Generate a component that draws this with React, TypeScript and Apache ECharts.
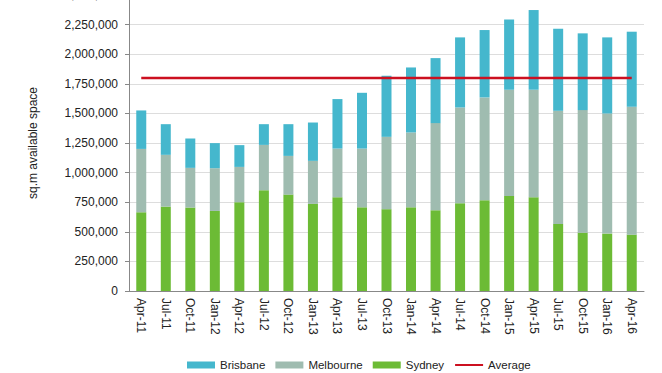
import React, { useEffect, useRef } from "react";
import * as echarts from "echarts";

const categories = ["Apr-11","Jul-11","Oct-11","Jan-12","Apr-12","Jul-12","Oct-12","Jan-13","Apr-13","Jul-13","Oct-13","Jan-14","Apr-14","Jul-14","Oct-14","Jan-15","Apr-15","Jul-15","Oct-15","Jan-16","Apr-16"];
const sydney = [665000,713000,705000,676000,750000,851000,814000,736000,792000,707000,691000,707000,682000,741000,767000,803000,792000,566000,493000,485000,476000];
const melbourne = [535000,437000,335000,361000,298000,383000,327000,363000,411000,496000,611000,632000,736000,809000,868000,897000,908000,956000,1035000,1014000,1080000];
const brisbane = [325000,259000,248000,212000,184000,175000,268000,324000,418000,471000,516000,549000,549000,592000,569000,594000,673000,693000,648000,643000,634000];
const average = categories.map(() => 1800000);

export default function App() {
  const ref = useRef<HTMLDivElement>(null);
  useEffect(() => {
    const chart = echarts.init(ref.current!, null, { renderer: "svg" });
    const font = "Liberation Sans, Arial, sans-serif";
    chart.setOption({
      animation: false,
      textStyle: { fontFamily: font },
      grid: { left: 129, right: 18, top: 0, bottom: 82, outerBoundsMode: "none", containLabel: false },
      legend: {
        top: 364,
        left: 187,
        padding: 0,
        itemWidth: 28,
        itemHeight: 7,
        itemGap: 10,
        textStyle: { fontSize: 11.5, color: "#222", fontFamily: font },
        data: [
          { name: "Brisbane", icon: "rect" },
          { name: "Melbourne", icon: "rect" },
          { name: "Sydney", icon: "rect" },
          { name: "Average", icon: "inherit", itemStyle: { opacity: 0 } },
        ],
      },
      xAxis: {
        type: "category",
        data: categories,
        boundaryGap: true,
        axisLine: { lineStyle: { color: "#888", width: 1 } },
        axisTick: { inside: true, length: 4, lineStyle: { color: "#888" } },
        axisLabel: { rotate: -90, fontSize: 12, color: "#222", margin: 7, interval: 0, fontFamily: font },
      },
      yAxis: {
        type: "value",
        min: 0,
        max: 2500000,
        interval: 250000,
        name: "sq.m available space",
        nameLocation: "middle",
        nameGap: 90,
        nameTextStyle: { fontSize: 12, color: "#222", fontFamily: font },
        axisLine: { show: true, lineStyle: { color: "#888" } },
        axisTick: { show: true, length: 4, lineStyle: { color: "#888" } },
        splitLine: { lineStyle: { color: "#ddd" } },
        axisLabel: {
          fontSize: 12,
          color: "#222",
          margin: 11,
          fontFamily: font,
          formatter: (v: number) => v.toLocaleString("en-US"),
        },
      },
      series: [
        { name: "Sydney", type: "bar", stack: "s", data: sydney, barWidth: 10, itemStyle: { color: "#6cbb35" } },
        { name: "Melbourne", type: "bar", stack: "s", data: melbourne, barWidth: 10, itemStyle: { color: "#9fbcb0" } },
        { name: "Brisbane", type: "bar", stack: "s", data: brisbane, barWidth: 10, itemStyle: { color: "#45b7cd" } },
        { name: "Average", type: "line", data: average, symbol: "none", lineStyle: { color: "#cc1020", width: 2.5 }, itemStyle: { color: "#cc1020" } },
      ],
    });
    return () => chart.dispose();
  }, []);
  return (
    <div style={{ position: "absolute", left: 0, top: 0, width: 662, height: 373, overflow: "hidden" }}>
      <div ref={ref} style={{ width: 662, height: 378, position: "absolute", left: 0, top: -5 }} />
    </div>
  );
}
